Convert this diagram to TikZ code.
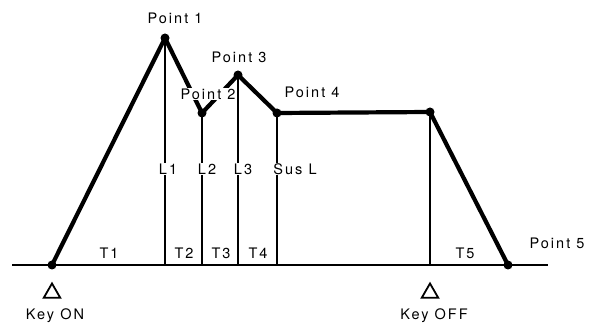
\documentclass[tikz,border=0pt]{standalone}
\usepackage{fontspec}
\setmainfont{TeX Gyre Heros}[LetterSpace=14]
\usetikzlibrary{shapes.geometric}
\tikzset{
  env/.style={line width=4.2pt, line cap=round, line join=round},
  thin/.style={line width=1.2pt},
  base/.style={line width=1.8pt},
  dot/.style={circle, fill=black, inner sep=0pt, minimum size=9pt},
  lbl/.style={font=\fontsize{14.5}{15}\selectfont, inner sep=0.8pt},
  wlbl/.style={lbl, fill=white},
  keytri/.style={regular polygon, regular polygon sides=3, draw, line width=1.8pt, inner sep=0pt, minimum size=19pt},
}
\begin{document}
\begin{tikzpicture}[x=1pt,y=-1pt]
\useasboundingbox (0,0) rectangle (590,326);
% key points
\coordinate (kon) at (52,265);
\coordinate (p1) at (165,38);
\coordinate (p2) at (202,113);
\coordinate (p3) at (238,75);
\coordinate (p4) at (277,113);
\coordinate (koff) at (430,112);
\coordinate (p5) at (508,265);
% baseline ends and feet
\coordinate (bl) at (12,265);
\coordinate (br) at (548,265);
\coordinate (f1) at (165,265);
\coordinate (f2) at (202,265);
\coordinate (f3) at (238,265);
\coordinate (f4) at (277,265);
\coordinate (f5) at (430,265);
% baseline
\draw[base] (bl) -- (br);
% verticals
\draw[thin] (p1) -- (f1);
\draw[thin] (p2) -- (f2);
\draw[thin] (p4) -- (f4);
\draw[thin] (koff) -- (f5);
% envelope
\draw[env] (kon) -- (p1) -- (p2) -- (p3) -- (p4) -- (koff) -- (p5);
% dots
\foreach \p in {kon,p1,p2,p3,p4,koff,p5} \node[dot] (d\p) at (\p) {};
% Point 2 label covering part of the envelope
\node[wlbl] (lp2) at (208,94) {Point 2};
\draw[thin] (p3) -- (f3);
% point labels
\node[lbl] (lp1) at (175,18) {Point 1};
\node[lbl] (lp3) at (239,57) {Point 3};
\node[lbl] (lp4) at (312,92) {Point 4};
\node[lbl] (lp5) at (557,243) {Point 5};
% level labels
\node[wlbl] (l1) at (168,169) {L1};
\node[wlbl] (l2) at (207,169) {L2};
\node[wlbl] (l3) at (243,169) {L3};
\node[wlbl] (sus) at (295,169) {Sus L};
% time labels
\node[lbl] (t1) at (109,253) {T1};
\node[lbl] (t2) at (184,253) {T2};
\node[lbl] (t3) at (221,253) {T3};
\node[lbl] (t4) at (258,253) {T4};
\node[lbl] (t5) at (465,253) {T5};
% key markers
\node[keytri] (tron) at (52,293) {};
\node[keytri] (troff) at (430,293) {};
\node[lbl] (kontext) at (55,316) {Key ON};
\node[lbl] (kofftext) at (434,316) {Key OFF};
\end{tikzpicture}
\end{document}
